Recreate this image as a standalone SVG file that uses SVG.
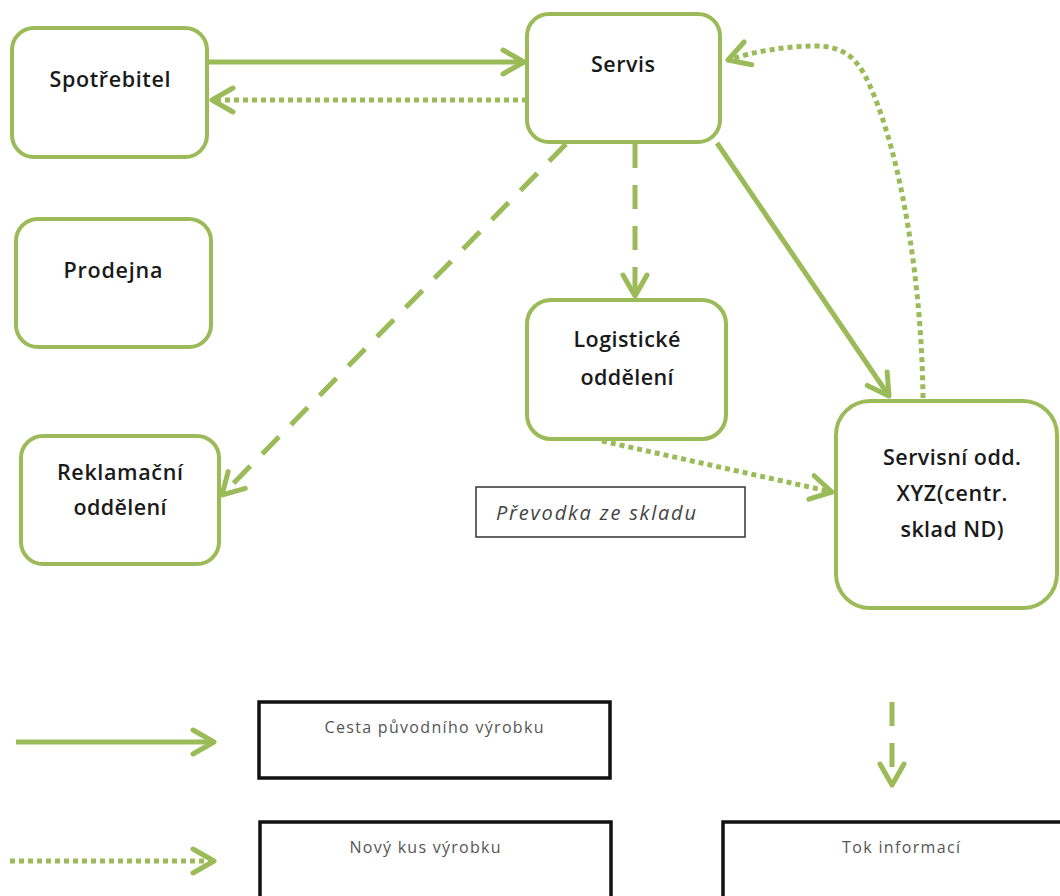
<svg xmlns="http://www.w3.org/2000/svg" width="1060" height="896" viewBox="0 0 1060 896">
  <defs>
    <style>
      .node rect { fill: #ffffff; stroke: #9bbb59; stroke-width: 4; }
      .node text { font-family: "Open Sans", Lato, "Liberation Sans", sans-serif; font-weight: 600; font-size: 21.5px; fill: #1a1a1a; text-anchor: middle; }
      .link { fill: none; stroke: #9bbb59; stroke-width: 5; }
      .dotted { stroke-dasharray: 5 4; }
      .dashed { stroke-dasharray: 24 17; }
      .note rect { fill: #ffffff; stroke: #333333; stroke-width: 1.5; }
      .note text { font-family: "Open Sans", Lato, "Liberation Sans", sans-serif; font-style: italic; font-size: 20px; fill: #444444; }
      .legend rect { fill: #ffffff; stroke: #111111; stroke-width: 3.5; }
      .legend text { font-family: "Open Sans", Lato, "Liberation Sans", sans-serif; font-size: 16px; fill: #555555; text-anchor: middle; }
    </style>
    <marker id="chevron" markerUnits="userSpaceOnUse" viewBox="-26 -16 30 32" refX="0" refY="0" markerWidth="30" markerHeight="32" orient="auto" overflow="visible">
      <path d="M-21,-12 L0,0 L-21,12" fill="none" stroke="#9bbb59" stroke-width="5" stroke-linejoin="round" stroke-linecap="round"/>
    </marker>
  </defs>

  <rect width="1060" height="896" fill="#ffffff"/>

  <!-- nodes -->
  <g id="spotrebitel" class="node">
    <rect x="12" y="28" width="195" height="129" rx="22"/>
    <text x="110" y="87" textLength="121" lengthAdjust="spacing">Spotřebitel</text>
  </g>
  <g id="servis" class="node">
    <rect x="527" y="14" width="193" height="128" rx="22"/>
    <text x="623" y="72" textLength="64" lengthAdjust="spacing">Servis</text>
  </g>
  <g id="prodejna" class="node">
    <rect x="16" y="219" width="195" height="128" rx="22"/>
    <text x="113" y="278" textLength="99" lengthAdjust="spacing">Prodejna</text>
  </g>
  <g id="reklamacni" class="node">
    <rect x="21" y="436" width="198" height="128" rx="22"/>
    <text x="120" y="480" textLength="126" lengthAdjust="spacing">Reklamační</text>
    <text x="120" y="515" textLength="93" lengthAdjust="spacing">oddělení</text>
  </g>
  <g id="logisticke" class="node">
    <rect x="527" y="300" width="199" height="139" rx="24"/>
    <text x="627" y="347" textLength="107" lengthAdjust="spacing">Logistické</text>
    <text x="627" y="385" textLength="93" lengthAdjust="spacing">oddělení</text>
  </g>
  <g id="servisni-odd" class="node">
    <rect x="836" y="401" width="221" height="207" rx="34"/>
    <text x="952" y="465" textLength="138" lengthAdjust="spacing">Servisní odd.</text>
    <text x="952" y="501" textLength="111" lengthAdjust="spacing">XYZ(centr.</text>
    <text x="952" y="537" textLength="103" lengthAdjust="spacing">sklad ND)</text>
  </g>

  <!-- free label -->
  <g id="prevodka" class="note">
    <rect x="476" y="487" width="269" height="50"/>
    <text x="496" y="520" textLength="200" lengthAdjust="spacing">Převodka ze skladu</text>
  </g>

  <!-- connectors -->
  <g id="connectors">
    <line class="link" x1="207" y1="62" x2="524" y2="62" marker-end="url(#chevron)"/>
    <line class="link dotted" x1="527" y1="100" x2="212" y2="100" marker-end="url(#chevron)"/>
    <line class="link dashed" x1="566" y1="144" x2="222" y2="495" marker-end="url(#chevron)"/>
    <line class="link dashed" x1="635" y1="144" x2="635" y2="296" marker-end="url(#chevron)"/>
    <line class="link" x1="717" y1="143" x2="889" y2="396" marker-end="url(#chevron)"/>
    <path class="link dotted" d="M923,398 C922,290 903,160 870,86 C857,56 842,46 815,46 C785,46 752,52 728,60" marker-end="url(#chevron)"/>
    <line class="link dotted" x1="602" y1="441" x2="832" y2="492" marker-end="url(#chevron)"/>
  </g>

  <!-- legend -->
  <g id="legend" class="legend">
    <line class="link" x1="16" y1="742" x2="214" y2="742" marker-end="url(#chevron)"/>
    <rect x="259" y="702" width="351" height="76"/>
    <text x="434" y="733" textLength="219" lengthAdjust="spacing">Cesta původního výrobku</text>

    <line class="link dotted" x1="10" y1="861" x2="214" y2="861" marker-end="url(#chevron)"/>
    <rect x="260" y="822" width="351" height="100"/>
    <text x="425" y="853" textLength="151" lengthAdjust="spacing">Nový kus výrobku</text>

    <line class="link" x1="892" y1="702" x2="892" y2="785" stroke-dasharray="24 17" marker-end="url(#chevron)"/>
    <rect x="723" y="822" width="350" height="100"/>
    <text x="901" y="853" textLength="118" lengthAdjust="spacing">Tok informací</text>
  </g>
</svg>
